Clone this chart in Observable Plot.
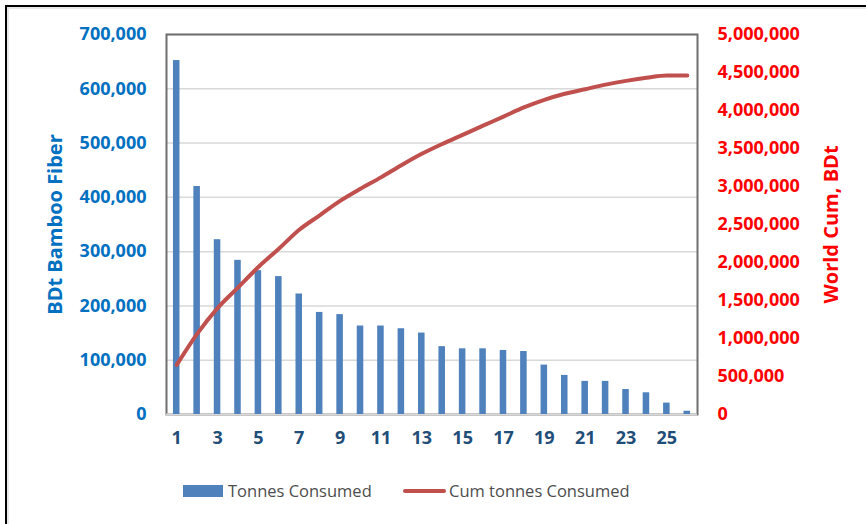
<!DOCTYPE html>
<html>
<head>
<meta charset="utf-8">
<script src="https://cdn.jsdelivr.net/npm/d3@7"></script>
<script src="https://cdn.jsdelivr.net/npm/@observablehq/plot@0.6"></script>
<style>
  html, body { margin: 0; padding: 0; background: #fff; }
  #chart { position: relative; width: 866px; height: 524px; overflow: hidden; font-family: "Open Sans", sans-serif; }
  #frame { position: absolute; left: 5px; top: 5px; width: 900px; height: 600px;
           border-top: 2px solid #000; border-left: 2px solid #000;
           box-shadow: inset 2px 2px 0 #e8e8e8; }
  #plot { position: absolute; left: 0; top: 0; }
  .lg-box { position: absolute; }
  .lg-text { position: absolute; top: 479px; font-size: 16.5px; color: #4d4d4d; line-height: 24px; white-space: nowrap; }
</style>
</head>
<body>
<div id="chart">
  <div id="frame"></div>
  <div id="plot"></div>
  <div class="lg-box" style="left:183px;top:485px;width:40px;height:12px;background:#4F81BD;"></div>
  <div class="lg-text" style="left:228px;">Tonnes Consumed</div>
  <div class="lg-box" style="left:403px;top:489px;width:43px;height:4px;border-radius:2px;background:#C0504D;"></div>
  <div class="lg-text" style="left:449px;">Cum tonnes Consumed</div>
</div>
<script>
// Ranked consumers of bamboo fiber (bone-dry tonnes)
const categories = [1, 2, 3, 4, 5, 6, 7, 8, 9, 10, 11, 12, 13, 14, 15, 16, 17, 18, 19, 20, 21, 22, 23, 24, 25, 26];
const tonnesConsumed = [652000, 420000, 322000, 284000, 265000, 254000, 222000, 188000, 184000, 163000,
                        163000, 158000, 150000, 125000, 121000, 121000, 118000, 116000, 91000, 72000,
                        61000, 61000, 46000, 40000, 21000, 6000];
const cumTonnesConsumed = [652000, 1060000, 1400000, 1670000, 1940000, 2180000, 2430000, 2620000, 2810000, 2970000,
                           3120000, 3280000, 3430000, 3560000, 3680000, 3800000, 3920000, 4040000, 4140000, 4220000,
                           4280000, 4340000, 4390000, 4430000, 4460000, 4460000];
const leftTicks = [0, 100000, 200000, 300000, 400000, 500000, 600000, 700000];
const rightTicks = [0, 500000, 1000000, 1500000, 2000000, 2500000, 3000000, 3500000, 4000000, 4500000, 5000000];
const xTickLabels = [1, 3, 5, 7, 9, 11, 13, 15, 17, 19, 21, 23, 25];

const leftMax = leftTicks[leftTicks.length - 1];
const rightMax = rightTicks[rightTicks.length - 1];
const k = leftMax / rightMax; // maps the cumulative axis onto the bar axis

const rows = categories.map((c, i) => ({cat: c, tonnes: tonnesConsumed[i], cum: cumTonnesConsumed[i]}));
const fmt = d3.format(",");
const font = "'Open Sans', sans-serif";

const chart = Plot.plot({
  width: 866,
  height: 460,
  marginLeft: 166,
  marginRight: 169,
  marginTop: 34,
  marginBottom: 46,
  style: {fontFamily: font, background: "transparent"},
  x: {type: "band", domain: categories, paddingInner: 0.68, paddingOuter: 0.34, round: false, axis: null},
  y: {domain: [0, leftMax], axis: null},
  marks: [
    Plot.gridY(leftTicks, {stroke: "#d9d9d9", strokeOpacity: 1, strokeWidth: 1.5}),
    Plot.frame({stroke: "#6e6e6e", strokeWidth: 2}),
    Plot.ruleY([0], {stroke: "#d9d9d9", strokeWidth: 2}),
    Plot.barY(rows, {x: "cat", y: "tonnes", fill: "#4F81BD"}),
    Plot.line(rows, {x: "cat", y: d => d.cum * k, stroke: "#C0504D", strokeWidth: 4, curve: "monotone-x"}),
    Plot.axisY(leftTicks, {anchor: "left", tickSize: 0, tickPadding: 20, tickFormat: fmt,
      color: "#0070C0", fontSize: 18, fontWeight: "bold", label: null}),
    Plot.axisY(rightTicks.map(v => v * k), {anchor: "right", tickSize: 0, tickPadding: 20,
      tickFormat: v => fmt(Math.round(v / k)), color: "#FF0000", fontSize: 18, fontWeight: "bold", label: null}),
    Plot.axisX(xTickLabels, {anchor: "bottom", tickSize: 0, tickPadding: 17, color: "#1F4E79",
      fontSize: 18, fontWeight: "bold", label: null}),
    Plot.text(["BDt Bamboo Fiber"], {frameAnchor: "left", textAnchor: "middle", dx: -111, rotate: -90,
      fill: "#0070C0", fontSize: 20, fontWeight: "bold"}),
    Plot.text(["World Cum, BDt"], {frameAnchor: "right", textAnchor: "middle", dx: 134, rotate: -90,
      fill: "#FF0000", fontSize: 20, fontWeight: "bold"})
  ]
});
document.getElementById("plot").appendChild(chart);
</script>
</body>
</html>
